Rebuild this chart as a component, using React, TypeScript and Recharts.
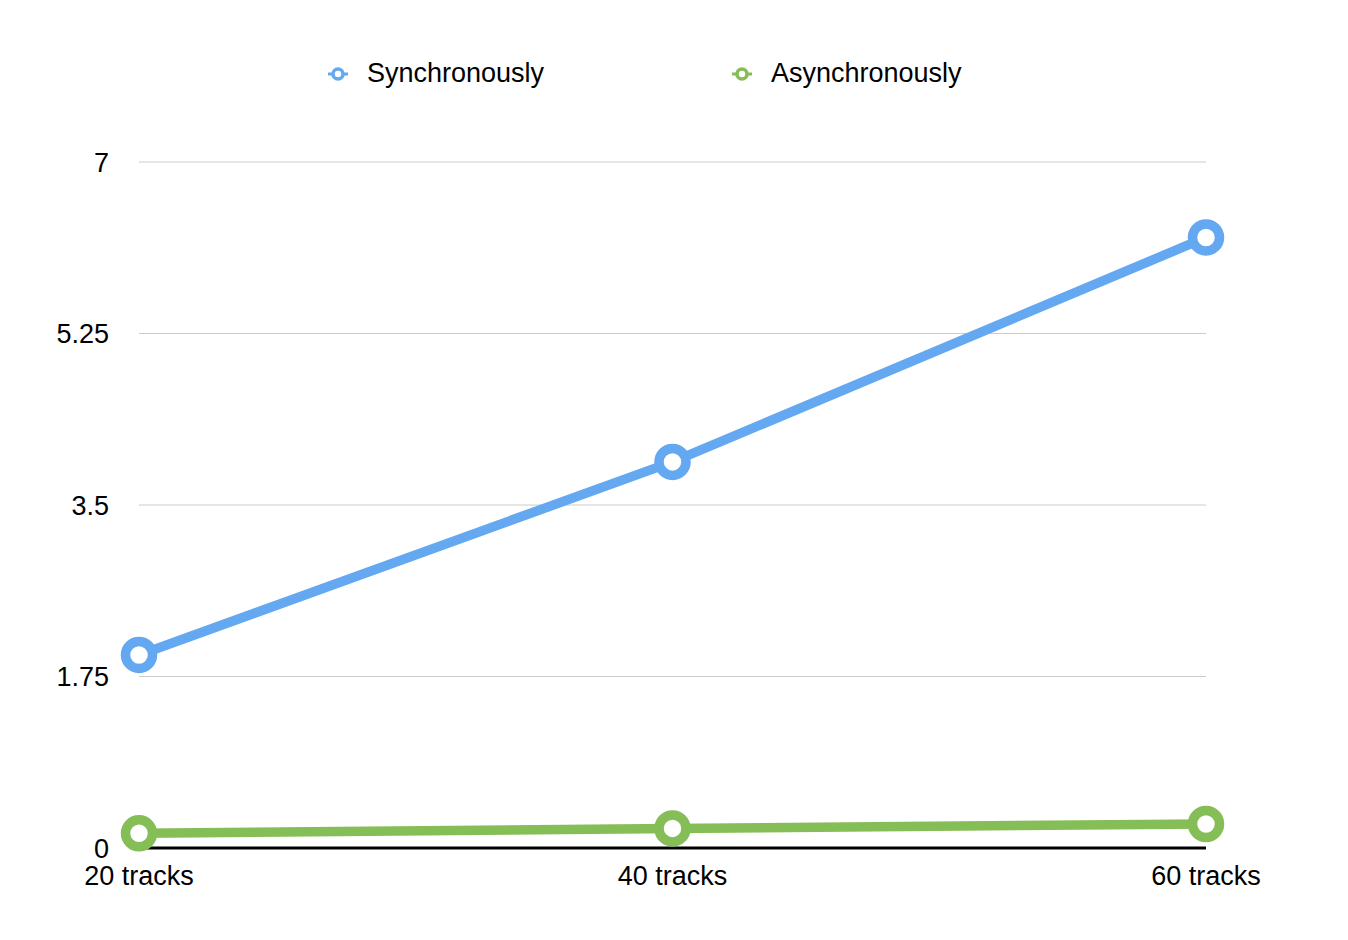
import { LineChart, Line, XAxis, YAxis, CartesianGrid } from 'recharts';

const categories = ['20 tracks', '40 tracks', '60 tracks'];
const syncValues = [1.97, 3.94, 6.23];
const asyncValues = [0.15, 0.2, 0.245];
const yTicks = [0, 1.75, 3.5, 5.25, 7];

const data = categories.map((name, i) => ({
  name,
  sync: syncValues[i],
  async: asyncValues[i],
}));

const BLUE = '#64a8f1';
const GREEN = '#85bd56';
const FONT = '"Liberation Sans", Arial, Helvetica, sans-serif';

const legendItems = [
  { name: 'Synchronously', color: BLUE },
  { name: 'Asynchronously', color: GREEN },
];

const ChartLegend = () => (
  <div
    style={{
      position: 'absolute',
      top: 58,
      left: 0,
      display: 'flex',
      paddingLeft: 327,
      fontFamily: FONT,
      fontSize: 27,
      color: '#000',
    }}
  >
    {legendItems.map((item) => (
      <div key={item.name} style={{ width: 404, display: 'flex', alignItems: 'center' }}>
        <svg width={22} height={20} style={{ marginRight: 18 }}>
          <line x1={1} y1={10} x2={21} y2={10} stroke={item.color} strokeWidth={3} />
          <circle cx={11} cy={10} r={5} stroke={item.color} strokeWidth={3.5} fill="#fff" />
        </svg>
        <span>{item.name}</span>
      </div>
    ))}
  </div>
);

export default function App() {
  return (
    <div style={{ position: 'absolute', left: 0, top: 0, width: 1348, height: 940, background: '#fff' }}>
      <LineChart width={1348} height={940} data={data} margin={{ top: 162, right: 142, left: 0, bottom: 32 }}>
        <CartesianGrid horizontal vertical={false} stroke="#cccccc" strokeWidth={1} />
        <XAxis
          dataKey="name"
          axisLine={{ stroke: '#000', strokeWidth: 3 }}
          tickLine={false}
          tickMargin={12}
          height={60}
          interval={0}
          tick={{ fill: '#000', fontSize: 27, fontFamily: FONT }}
        />
        <YAxis
          domain={[0, 7]}
          ticks={yTicks}
          width={139}
          axisLine={false}
          tickLine={false}
          tickMargin={24}
          tick={{ fill: '#000', fontSize: 27, fontFamily: FONT }}
        />
        <Line
          name="Synchronously"
          dataKey="sync"
          stroke={BLUE}
          strokeWidth={9.5}
          dot={{ r: 13.5, strokeWidth: 9.5, fill: '#fff', stroke: BLUE }}
          activeDot={false}
          isAnimationActive={false}
        />
        <Line
          name="Asynchronously"
          dataKey="async"
          stroke={GREEN}
          strokeWidth={9.5}
          dot={{ r: 13.5, strokeWidth: 9.5, fill: '#fff', stroke: GREEN }}
          activeDot={false}
          isAnimationActive={false}
        />
      </LineChart>
      <ChartLegend />
    </div>
  );
}
